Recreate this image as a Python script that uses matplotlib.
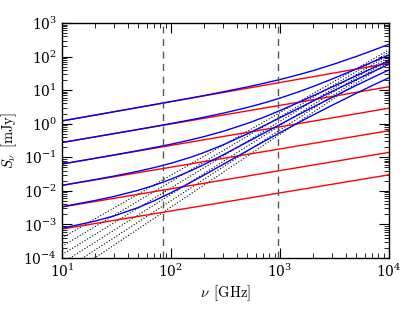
import numpy as np
import matplotlib
matplotlib.use("Agg")
import matplotlib.pyplot as plt

plt.rcParams['mathtext.fontset'] = 'cm'
plt.rcParams['font.family'] = 'serif'
plt.rcParams['font.size'] = 9

# frequencies [GHz]
nu_lims = [10, 1e4]
nu = [10, 20, 30, 50, 70, 100, 150, 200, 300, 500, 700,
      1000, 1500, 2000, 3000, 5000, 7000, 10000]

# red power laws: flux at 10 GHz and at 10^4 GHz [mJy]
red_lo = [1.21, 0.275, 0.063, 0.0145, 0.0033, 0.00073]
red_hi = [63, 12.6, 2.9, 0.62, 0.14, 0.03]

# blue curves read at nu [mJy]
blue1 = [1.21, 1.80, 2.272, 3.05, 3.704, 4.57, 5.798, 6.89, 8.875, 12.42, 15.77,
         20.71, 29.11, 37.93, 56.98, 100.3, 149.5, 231.9]
blue2 = [0.2752, 0.4048, 0.5075, 0.6771, 0.8208, 1.0115, 1.2934, 1.554, 2.050, 3.036, 4.078,
         5.778, 9.016, 12.72, 21.34, 42.54, 67.87, 111.6]
blue3 = [0.06312, 0.09309, 0.1173, 0.1582, 0.1944, 0.2451, 0.3270, 0.4106, 0.5904, 1.0148, 1.530,
         2.460, 4.384, 6.718, 12.38, 26.86, 44.54, 75.49]
blue4 = [0.0146, 0.02162, 0.02754, 0.03841, 0.04921, 0.06639, 0.09914, 0.1379, 0.2337, 0.4956, 0.844,
         1.506, 2.934, 4.709, 9.089, 20.45, 34.43, 59.02]
blue5 = [0.003365, 0.005134, 0.006806, 0.01039, 0.01458, 0.02224, 0.03891, 0.06048, 0.1176, 0.2831, 0.5098,
         0.9481, 1.903, 3.099, 6.062, 13.78, 23.30, 40.04]
blue6 = [7.68e-4, 1.25e-3, 1.791e-3, 3.181e-3, 5.049e-3, 8.788e-3, 0.0175, 0.02926, 0.0612, 0.1558, 0.2866,
         0.5411, 1.098, 1.796, 3.528, 8.043, 13.61, 23.43]
blues = [blue1, blue2, blue3, blue4, blue5, blue6]

# dotted lines: flux at 10 GHz and at 10^4 GHz
dot_lo = [3.98e-4, 2.24e-4, 1.26e-4, 7.08e-5, 3.98e-5, 2.24e-5]
dot_hi = [158, 135, 115, 98, 83, 71]

# vertical markers [GHz]
vlines = [85, 950]

fig = plt.figure(figsize=(4.15, 3.12), dpi=100)
ax = fig.add_axes([0.1494, 0.1731, 0.7879, 0.7532])

for lo, hi in zip(dot_lo, dot_hi):
    ax.plot(nu_lims, [lo, hi], color='k', ls=':', lw=0.8)
for lo, hi in zip(red_lo, red_hi):
    ax.plot(nu_lims, [lo, hi], color='r', lw=1.0)
for b in blues:
    ax.plot(nu, b, color='b', lw=1.0)
for v in vlines:
    ax.axvline(v, color='0.35', ls='--', lw=1.0, dashes=(5, 4))

ax.set_xscale('log')
ax.set_yscale('log')
ax.set_xlim(10, 1e4)
ax.set_ylim(1e-4, 1e3)
ax.set_xlabel(r'$\nu\ \, [\mathrm{GHz}]$', fontsize=10.5, labelpad=2)
ax.set_ylabel(r'$S_\nu\ \, [\mathrm{mJy}]$', fontsize=10.5, labelpad=3)
ax.tick_params(which='both', direction='in', top=True, right=True, labelsize=10)
ax.tick_params(which='major', length=7, width=0.8)
ax.tick_params(which='minor', length=3.5, width=0.6)
ax.yaxis.set_major_locator(matplotlib.ticker.LogLocator(base=10, numticks=20))
ax.yaxis.set_minor_locator(matplotlib.ticker.LogLocator(base=10, subs=np.arange(2, 10), numticks=20))
for s in ax.spines.values():
    s.set_linewidth(1.0)

fig.savefig('out.png', dpi=100)
